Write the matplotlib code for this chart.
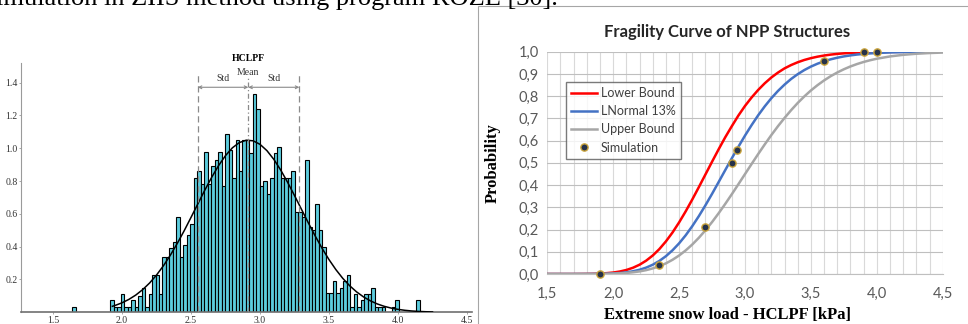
import matplotlib
matplotlib.use("Agg")
import matplotlib.pyplot as plt
import matplotlib.patches as mpatches
import numpy as np

# ---------------- data: left panel (HCLPF histogram) ----------------
hist_start = 1.638
hist_bin_width = 0.0252
hist_density = [
    0.035, 0, 0, 0, 0, 0, 0, 0, 0, 0,
    0, 0.075, 0.035, 0.035, 0.11, 0.035, 0.035, 0.075, 0.035, 0.10,
    0.15, 0.035, 0.11, 0.23, 0.23, 0.11, 0.34, 0.34, 0.39, 0.43,
    0.58, 0.34, 0.41, 0.47, 0.54, 0.82, 0.86, 0.78, 0.98, 0.78,
    0.89, 0.93, 0.98, 0.77, 1.09, 0.99, 0.82, 1.05, 0.86, 1.05,
    1.05, 0.97, 1.33, 1.24, 0.77, 0.80, 0.72, 0.82, 0.97, 1.01,
    0.82, 0.82, 0.82, 0.86, 0.61, 0.61, 0.58, 0.93, 0.52, 0.50,
    0.66, 0.50, 0.40, 0.12, 0.12, 0.19, 0.12, 0.15, 0.19, 0.23,
    0.035, 0.11, 0.035, 0.075, 0.11, 0.11, 0.15, 0.035, 0.035, 0.035,
    0, 0, 0.035, 0.075, 0, 0, 0, 0, 0, 0.075,
]
fit_x = [1.93, 1.95, 2.00, 2.05, 2.10, 2.15, 2.20, 2.25, 2.30, 2.35, 2.40, 2.45,
         2.50, 2.55, 2.60, 2.65, 2.70, 2.75, 2.80, 2.85, 2.90, 2.95, 3.00, 3.05,
         3.10, 3.15, 3.20, 3.25, 3.30, 3.35, 3.40, 3.45, 3.50, 3.55, 3.60, 3.65,
         3.70, 3.75, 3.80, 3.85, 3.90, 3.95, 4.00, 4.05, 4.10, 4.15, 4.20, 4.25]
fit_density = [0.0365, 0.0418, 0.0578, 0.0788, 0.1053, 0.1385, 0.1787, 0.2271,
               0.2836, 0.3478, 0.4193, 0.4965, 0.5786, 0.6618, 0.7447, 0.8234,
               0.8947, 0.9555, 1.003, 1.0348, 1.0492, 1.0456, 1.0241, 0.9857,
               0.9326, 0.8673, 0.7925, 0.7119, 0.6285, 0.5454, 0.4652, 0.3898,
               0.3211, 0.2600, 0.2067, 0.1617, 0.1243, 0.0940, 0.0698, 0.0509,
               0.0365, 0.0258, 0.0178, 0.0121, 0.0081, 0.0053, 0.0035, 0.0022]
hclpf_mean = 2.915
hclpf_std_low = 2.549
hclpf_std_high = 3.285
hist_xticks = [1.5, 2.0, 2.5, 3.0, 3.5, 4.0, 4.5]
hist_yticks = [0.2, 0.4, 0.6, 0.8, 1.0, 1.2, 1.4]

# ---------------- data: right panel (fragility curves) ----------------
frag_x = [1.5, 1.6, 1.7, 1.8, 1.85, 1.9, 1.95, 2.0, 2.05, 2.1, 2.15, 2.2, 2.25,
          2.3, 2.35, 2.4, 2.45, 2.5, 2.55, 2.6, 2.65, 2.7, 2.75, 2.8, 2.85, 2.9,
          2.95, 3.0, 3.05, 3.1, 3.15, 3.2, 3.25, 3.3, 3.35, 3.4, 3.45, 3.5, 3.55,
          3.6, 3.65, 3.7, 3.75, 3.8, 3.85, 3.9, 3.95, 4.0, 4.1, 4.2, 4.3, 4.4, 4.5]
lower_bound = [0.0, 0.0, 0.0, 0.0005, 0.001, 0.002, 0.0038, 0.0066, 0.0112, 0.0181,
               0.0281, 0.0418, 0.060, 0.0832, 0.112, 0.1467, 0.1867, 0.2321, 0.2819,
               0.3352, 0.391, 0.448, 0.505, 0.561, 0.615, 0.665, 0.713, 0.756, 0.794,
               0.828, 0.858, 0.884, 0.906, 0.925, 0.940, 0.9525, 0.9628, 0.971,
               0.9776, 0.9828, 0.9869, 0.9901, 0.9926, 0.9944, 0.9959, 0.9969,
               0.9977, 0.9984, 0.9991, 0.9995, 0.9998, 0.9999, 0.9999]
lnormal_13 = [0.0, 0.0, 0.0, 0.0001, 0.0003, 0.0007, 0.0013, 0.0025, 0.0044, 0.0075,
              0.0122, 0.0191, 0.0287, 0.0417, 0.0587, 0.0802, 0.1066, 0.1379, 0.1742,
              0.2153, 0.2605, 0.3093, 0.3605, 0.4137, 0.4673, 0.5205, 0.5726, 0.6226,
              0.6697, 0.714, 0.7543, 0.7908, 0.8234, 0.852, 0.8774, 0.8989, 0.9174,
              0.933, 0.946, 0.9568, 0.9657, 0.9729, 0.9788, 0.9834, 0.9872, 0.9901,
              0.9924, 0.9942, 0.9967, 0.9981, 0.999, 0.9994, 0.9997]
upper_bound = [0.0, 0.0, 0.0, 0.0001, 0.0002, 0.0005, 0.001, 0.0017, 0.003, 0.0048,
               0.0077, 0.0117, 0.0174, 0.0251, 0.0351, 0.0479, 0.0639, 0.0832, 0.1061,
               0.1327, 0.163, 0.1968, 0.2336, 0.2733, 0.3153, 0.359, 0.404, 0.4495,
               0.4948, 0.5396, 0.5831, 0.6251, 0.6648, 0.702, 0.737, 0.7694, 0.7988,
               0.8256, 0.8494, 0.8708, 0.8899, 0.9064, 0.921, 0.9336, 0.9445, 0.9538,
               0.9617, 0.9684, 0.9787, 0.9859, 0.9908, 0.994, 0.9962]
sim_x = [1.9, 2.35, 2.7, 2.9, 2.94, 3.6, 3.9, 4.0]
sim_p = [0.0, 0.04, 0.21, 0.50, 0.56, 0.96, 1.0, 1.0]
frag_xticks = [1.5, 2.0, 2.5, 3.0, 3.5, 4.0, 4.5]
frag_yticks = [0.0, 0.1, 0.2, 0.3, 0.4, 0.5, 0.6, 0.7, 0.8, 0.9, 1.0]

W, H = 968, 324
fig = plt.figure(figsize=(W / 100, H / 100), dpi=100)
fig.patch.set_facecolor("white")

serif = "Liberation Serif"
sans = "Lato"

# ---------- cut-off document text on top (as in the source page) ----------
fig.text(-0.004, 1 - 5.5 / H, "imulation in ZIIS method using program ROZE [30].",
         family=serif, fontsize=19, ha="left", va="baseline", color="black")

# ---------- left panel ----------
ax1 = fig.add_axes([21 / W, (H - 312.3) / H, (471.7 - 21) / W, (312.3 - 63) / H])
edges = hist_start + hist_bin_width * np.arange(len(hist_density))
ax1.bar(edges, hist_density, width=hist_bin_width, align="edge",
        color="#5CCCDD", edgecolor="black", linewidth=0.8, zorder=2)
ax1.plot(fit_x, fit_density, color="black", lw=1.1, zorder=4)
ax1.set_xlim(1.268, 4.534)
ax1.set_ylim(0, 1.52)
for s in ("top", "right"):
    ax1.spines[s].set_visible(False)
ax1.spines["left"].set_color("#9a9a9a")
ax1.spines["bottom"].set_color("#707070")
ax1.spines["bottom"].set_linewidth(1.2)
ax1.set_xticks(hist_xticks)
ax1.set_xticklabels([f"{v:.1f}" for v in hist_xticks])
ax1.set_yticks(hist_yticks)
ax1.set_yticklabels([f"{v:.1f}" for v in hist_yticks])
ax1.tick_params(axis="both", length=1.5, width=0.6, colors="#9a9a9a",
                labelcolor="#333333", labelsize=7, pad=1)
for lab in ax1.get_xticklabels() + ax1.get_yticklabels():
    lab.set_family(serif)

y_top_lines = 1.447
ax1.plot([hclpf_std_low, hclpf_std_low], [0, y_top_lines], color="#8a8a8a",
         lw=0.9, ls=(0, (5, 3)), zorder=5, clip_on=False)
ax1.plot([hclpf_std_high, hclpf_std_high], [0, y_top_lines], color="#8a8a8a",
         lw=0.9, ls=(0, (5, 3)), zorder=5, clip_on=False)
ax1.plot([hclpf_mean, hclpf_mean], [0, 1.43], color="#8a8a8a",
         lw=0.9, ls=(0, (4, 2, 1, 2)), zorder=5, clip_on=False)
arr_y = 1.372
for a, b in ((hclpf_std_low, hclpf_mean), (hclpf_mean, hclpf_std_high)):
    ax1.annotate("", xy=(a, arr_y), xytext=(b, arr_y),
                 arrowprops=dict(arrowstyle="<->", color="#8a8a8a", lw=0.8,
                                 mutation_scale=5, shrinkA=0, shrinkB=0),
                 annotation_clip=False)
ax1.text((hclpf_std_low + hclpf_mean) / 2, 1.40, "Std", family=serif, fontsize=7,
         ha="center", va="bottom", color="#333333", clip_on=False)
ax1.text((hclpf_mean + hclpf_std_high) / 2, 1.40, "Std", family=serif, fontsize=7,
         ha="center", va="bottom", color="#333333", clip_on=False)
ax1.text(hclpf_mean, 1.463, "Mean", family=serif, fontsize=7, ha="center",
         va="center", color="#333333", clip_on=False)
ax1.text(hclpf_mean, 1.549, "HCLPF", family=serif, fontsize=7, fontweight="bold",
         ha="center", va="center", color="black", clip_on=False)

# ---------- right panel frame ----------
frame = mpatches.Rectangle((477.5 / W, -0.05), 0.6, (H - 6) / H + 0.05,
                           transform=fig.transFigure, fill=False,
                           edgecolor="#a6a6a6", lw=0.8)
fig.patches.append(frame)

# ---------- right panel ----------
ax2 = fig.add_axes([547.3 / W, 50 / H, 395.4 / W, 222.3 / H])
ax2.set_xlim(1.5, 4.5)
ax2.set_ylim(0, 1.0)
ax2.set_xticks(frag_xticks)
ax2.set_xticks(np.round(np.arange(1.5, 4.51, 0.1), 2), minor=True)
ax2.set_yticks(frag_yticks)
ax2.xaxis.grid(True, which="both", color="#d9d9d9", lw=0.8)
ax2.yaxis.grid(True, which="major", color="#bfbfbf", lw=0.8)
ax2.set_axisbelow(True)
for s in ("top", "right", "left"):
    ax2.spines[s].set_visible(False)
ax2.spines["bottom"].set_color("#bfbfbf")
ax2.tick_params(axis="both", which="both", length=0, labelsize=10.5,
                labelcolor="#595959")
ax2.tick_params(axis="x", pad=9)
ax2.tick_params(axis="y", pad=6)
ax2.set_xticklabels([f"{v:.1f}".replace(".", ",") for v in frag_xticks])
ax2.set_yticklabels([f"{v:.1f}".replace(".", ",") for v in frag_yticks])
for lab in ax2.get_xticklabels() + ax2.get_yticklabels():
    lab.set_family(sans)

ax2.plot(frag_x, lower_bound, color="#ff0000", lw=1.8, label="Lower Bound", zorder=3)
ax2.plot(frag_x, lnormal_13, color="#4472c4", lw=1.8, label="LNormal 13%", zorder=3)
ax2.plot(frag_x, upper_bound, color="#a6a6a6", lw=1.8, label="Upper Bound", zorder=3)
ax2.plot(sim_x, sim_p, ls="none", marker="o", markersize=5.2,
         markerfacecolor="#26324a", markeredgecolor="#c8a23a", markeredgewidth=1,
         label="Simulation", zorder=5, clip_on=False)

leg = ax2.legend(loc="upper left", bbox_to_anchor=(0.0473, 0.8637), borderaxespad=0,
                 frameon=True, fancybox=False, edgecolor="#595959",
                 prop={"family": sans, "size": 9}, handlelength=2.1,
                 handletextpad=0.3, labelspacing=0.5, borderpad=0.4)
leg.get_frame().set_linewidth(1.0)
for t in leg.get_texts():
    t.set_color("#404040")

fig.text(727 / W, 1 - 31.7 / H, "Fragility Curve of NPP Structures", family=sans,
         fontsize=12, fontweight="bold", ha="center", va="center", color="#262626")
fig.text(493 / W, (H - 163) / H, "Probability", family=serif, fontsize=12,
         fontweight="bold", rotation=90, ha="center", va="center")
fig.text(728 / W, 1 - 315 / H, "Extreme snow load - HCLPF [kPa]", family=serif,
         fontsize=12, fontweight="bold", ha="center", va="center")

fig.savefig("out.png", dpi=100)
